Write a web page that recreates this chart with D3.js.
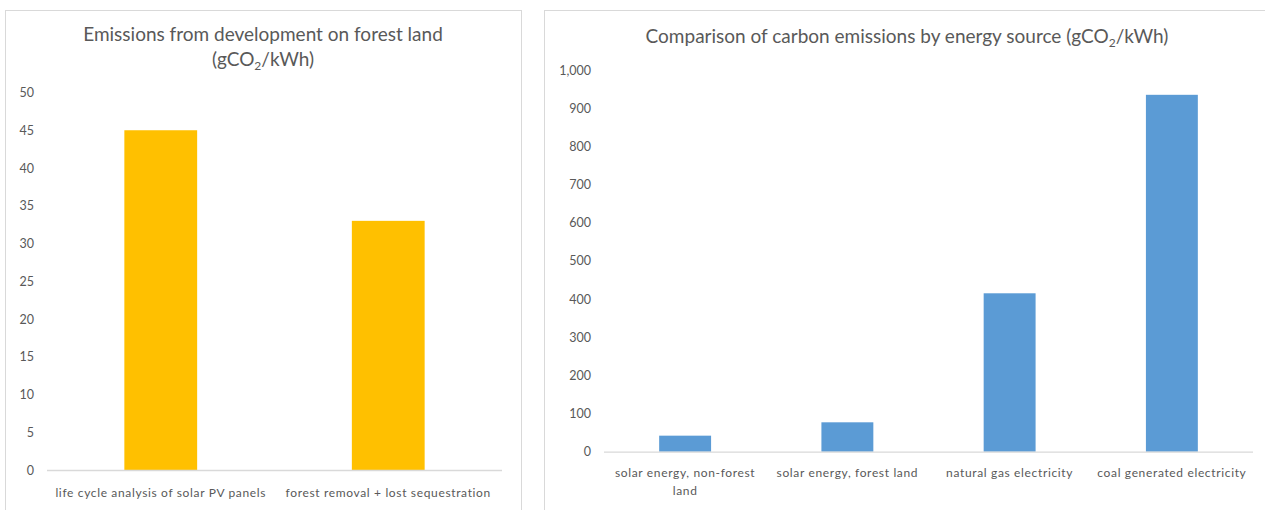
<!DOCTYPE html>
<html>
<head>
<meta charset="utf-8">
<script src="https://cdn.jsdelivr.net/npm/d3@7"></script>
<style>
  html, body { margin: 0; padding: 0; background: #fff; }
  svg { display: block; }
  text { font-family: Lato, "Open Sans", sans-serif; fill: #595959; }
</style>
</head>
<body>
<svg id="chart" width="1265" height="510"></svg>
<script>
// ---- Data ----
const leftCategories = ["life cycle analysis of solar PV panels", "forest removal + lost sequestration"];
const leftValues = [45, 33];
const leftTicks = [0, 5, 10, 15, 20, 25, 30, 35, 40, 45, 50];

const rightCategories = ["solar energy, non-forest land", "solar energy, forest land", "natural gas electricity", "coal generated electricity"];
const rightValues = [42, 77, 415, 935];
const rightTicks = [0, 100, 200, 300, 400, 500, 600, 700, 800, 900, 1000];

const svg = d3.select("#chart");

// panel borders
svg.append("rect").attr("x", 5.5).attr("y", 10.5).attr("width", 516).attr("height", 520)
  .attr("fill", "none").attr("stroke", "#d9d9d9");
svg.append("rect").attr("x", 544.5).attr("y", 10.5).attr("width", 730).attr("height", 520)
  .attr("fill", "none").attr("stroke", "#d9d9d9");

function wrap(textSel, width) {
  textSel.each(function() {
    const text = d3.select(this);
    const words = text.text().split(/\s+/);
    const y = text.attr("y"), dy = parseFloat(text.attr("dy") || 0);
    text.text(null);
    let line = [];
    let lineNumber = 0;
    let tspan = text.append("tspan").attr("x", 0).attr("y", y).attr("dy", dy + "em");
    for (const w of words) {
      line.push(w);
      tspan.text(line.join(" "));
      if (tspan.node().getComputedTextLength() > width && line.length > 1) {
        line.pop();
        tspan.text(line.join(" "));
        line = [w];
        tspan = text.append("tspan").attr("x", 0).attr("y", y)
          .attr("dy", (++lineNumber * 1.55 + dy) + "em").text(w);
      }
    }
  });
}

function drawChart(opts) {
  const x = d3.scaleBand().domain(opts.categories).range([opts.x0, opts.x1])
    .paddingInner(0.68).paddingOuter(0.34);
  const y = d3.scaleLinear().domain([0, opts.max]).range([opts.y0, opts.y1]);
  const g = svg.append("g");

  // y axis labels (no line)
  const yAxis = d3.axisLeft(y).tickValues(opts.ticks).tickSize(0).tickPadding(0)
    .tickFormat(opts.fmt);
  const ya = g.append("g").attr("transform", `translate(${opts.labelX},0)`).call(yAxis);
  ya.select(".domain").remove();
  ya.selectAll("text").attr("font-size", 12.5).attr("font-family", "Lato, sans-serif").attr("fill", "#595959");

  // bars
  g.selectAll("rect.bar").data(opts.values).enter().append("rect")
    .attr("class", "bar")
    .attr("x", (d, i) => x(opts.categories[i]))
    .attr("width", x.bandwidth())
    .attr("y", d => y(d))
    .attr("height", d => y(0) - y(d))
    .attr("fill", opts.color);

  // x axis
  const xAxis = d3.axisBottom(x).tickSize(0).tickPadding(0);
  const xa = g.append("g").attr("transform", `translate(0,${opts.y0})`).call(xAxis);
  xa.select(".domain").attr("stroke", "#d9d9d9").attr("stroke-width", 1.3)
    .attr("d", `M${opts.x0},0.5H${opts.x1}`);
  xa.selectAll("text").attr("font-size", 12).attr("font-family", "Lato, sans-serif")
    .attr("letter-spacing", "0.65px")
    .attr("fill", "#595959").attr("y", opts.catDy).attr("dy", "0");
  if (opts.wrapWidth) xa.selectAll("text").call(wrap, opts.wrapWidth);

  // title
  const t = g.append("text").attr("x", opts.titleX).attr("y", opts.titleY)
    .attr("text-anchor", "middle").attr("font-size", 19).attr("fill", "#595959");
  opts.title(t);
}

drawChart({
  categories: leftCategories, values: leftValues, ticks: leftTicks, max: 50,
  x0: 47, x1: 502, y0: 470, y1: 92.5, labelX: 34, color: "#FFC000",
  fmt: d3.format("d"), catDy: 27, wrapWidth: null,
  titleX: 263, titleY: 41,
  title: t => {
    t.append("tspan").attr("x", 263).attr("y", 41).text("Emissions from development on forest land");
    const l2 = t.append("tspan").attr("x", 263).attr("y", 66);
    l2.append("tspan").text("(gCO");
    l2.append("tspan").attr("font-size", 12).attr("dy", 4).text("2");
    l2.append("tspan").attr("dy", -4).text("/kWh)");
  }
});

drawChart({
  categories: rightCategories, values: rightValues, ticks: rightTicks, max: 1000,
  x0: 604, x1: 1253, y0: 451.7, y1: 70, labelX: 591, color: "#5B9BD5",
  fmt: d3.format(","), catDy: 25, wrapWidth: 168,
  titleX: 907, titleY: 43,
  title: t => {
    t.append("tspan").text("Comparison of carbon emissions by energy source (gCO");
    t.append("tspan").attr("font-size", 12).attr("dy", 4).text("2");
    t.append("tspan").attr("dy", -4).text("/kWh)");
  }
});
</script>
</body>
</html>
